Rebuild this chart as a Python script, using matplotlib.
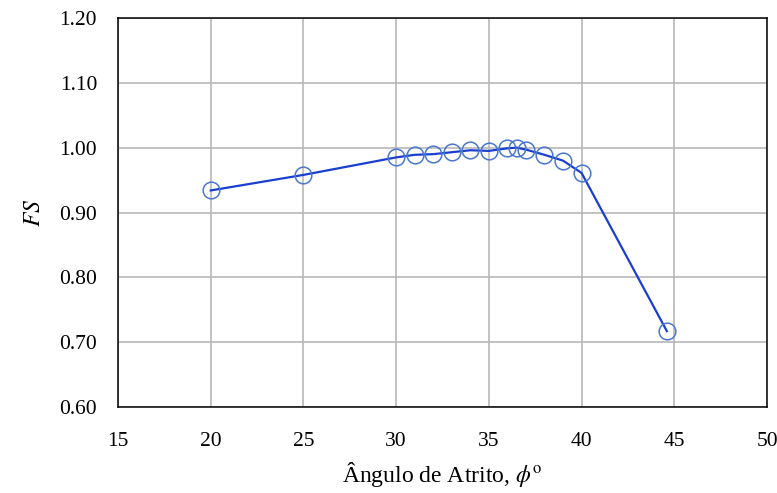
import matplotlib
matplotlib.use('Agg')
import matplotlib.pyplot as plt

ANGLE = [20, 25, 30, 31, 32, 33, 34, 35, 36, 36.5, 37, 38, 39, 40, 44.6]
FS = [0.934, 0.958, 0.985, 0.989, 0.990, 0.993, 0.996, 0.995, 0.999, 1.000,
      0.997, 0.989, 0.980, 0.961, 0.717]
X_TICKS = [15, 20, 25, 30, 35, 40, 45, 50]
Y_TICKS = [0.60, 0.70, 0.80, 0.90, 1.00, 1.10, 1.20]

plt.rcParams['font.family'] = ['Liberation Serif', 'DejaVu Serif']
plt.rcParams['mathtext.fontset'] = 'stix'

fig = plt.figure(figsize=(7.77, 4.93), dpi=100)
ax = fig.add_axes([118 / 777, 1 - 407 / 493, (767 - 118) / 777, (407 - 18) / 493])

ax.plot(ANGLE, FS, color='#1a3fd0', linewidth=1.6, zorder=3)
ax.plot(ANGLE, FS, linestyle='none', marker='o', markersize=12,
        markerfacecolor='none', markeredgecolor='#4a78d0', markeredgewidth=1.1, zorder=4)

ax.set_xlim(15, 50)
ax.set_ylim(0.60, 1.20)
ax.set_xticks(X_TICKS)
ax.set_yticks(Y_TICKS)
ax.set_yticklabels([f'{v:.2f}' for v in Y_TICKS])
ax.tick_params(length=0, labelsize=15.5)
ax.tick_params(axis='x', pad=18)
ax.tick_params(axis='y', pad=15)
ax.grid(True, color='#b8b8b8', linewidth=1.2)
ax.set_axisbelow(True)
for s in ax.spines.values():
    s.set_color('black')
    s.set_linewidth(1.1)

ax.set_xlabel('Ângulo de Atrito, $\\phi^{\\mathrm{o}}$', fontsize=17)
ax.set_ylabel('$FS$', fontsize=17)
ax.xaxis.set_label_coords(0.5, -0.135)
ax.yaxis.set_label_coords(-0.112, 0.5)

fig.savefig('out.png', dpi=100)
